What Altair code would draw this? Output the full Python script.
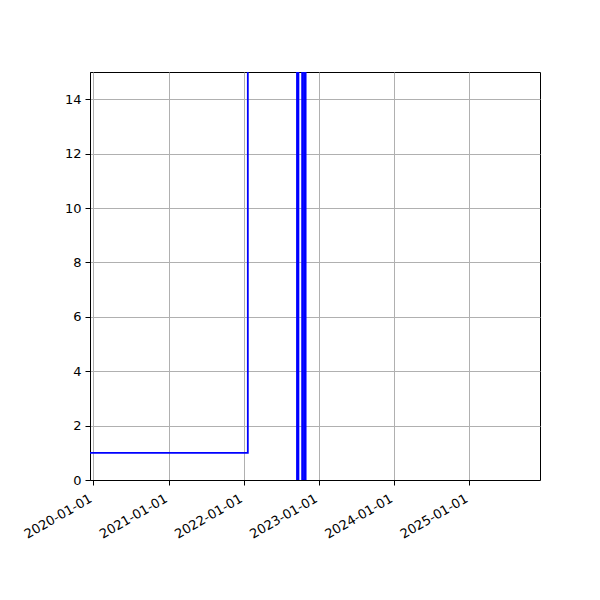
import altair as alt
import pandas as pd

# Step series (values above 15 are clipped off the top of the chart)
dates = ["2019-12-01", "2022-01-20", "2022-09-16", "2022-09-23",
         "2022-10-11", "2022-10-20", "2022-10-25", "2022-10-28", "2025-12-31"]
values = [1, 40, 0, 40, 0, 40, 0, 40, 40]

x_tick_years = [2020, 2021, 2022, 2023, 2024, 2025]
y_ticks = [0, 2, 4, 6, 8, 10, 12, 14]

df = pd.DataFrame({"date": dates, "value": values})

x_axis = alt.Axis(
    values=[alt.DateTime(year=y, month=1, date=1, utc=True) for y in x_tick_years],
    labelExpr="utcFormat(datum.value, '%Y-%m-%d')",
    labelAngle=330, labelAlign="right", labelBaseline="top",
    labelOffset=-6, labelPadding=7,
    labelOverlap=False, title=None, grid=True,
)
y_axis = alt.Axis(values=y_ticks, title=None, grid=True, labelPadding=4)

chart = alt.Chart(df).mark_line(
    interpolate="step-after", color="#0000ff", strokeWidth=1.8, clip=True
).encode(
    x=alt.X("date:T",
            scale=alt.Scale(type="utc",
                            domain=[alt.DateTime(year=2019, month=12, date=15, utc=True),
                                    alt.DateTime(year=2025, month=12, date=10, utc=True)]),
            axis=x_axis),
    y=alt.Y("value:Q", scale=alt.Scale(domain=[0, 15], nice=False, zero=True), axis=y_axis),
).properties(
    width=450, height=408,
    autosize=alt.AutoSizeParams(type="none"),
    padding={"left": 82, "top": 64, "right": 50, "bottom": 100},
).configure_axis(
    domainColor="black", domainWidth=1,
    tickColor="black", tickSize=5, tickWidth=1,
    labelFont="DejaVu Sans", labelFontSize=13, labelColor="black",
    gridColor="#b0b0b0", gridWidth=1,
).configure_view(stroke="black", strokeWidth=1)

chart.save("out.html", embed_options={"renderer": "svg", "actions": False})
